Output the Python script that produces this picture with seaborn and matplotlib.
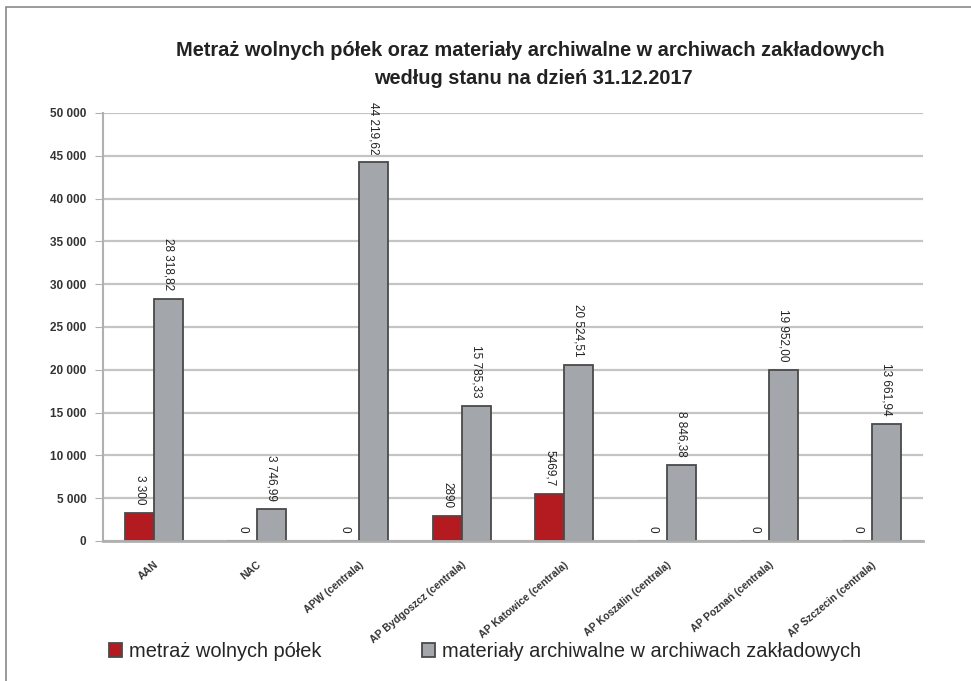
import matplotlib
matplotlib.use("Agg")
import matplotlib.pyplot as plt
from matplotlib.ticker import FuncFormatter, MultipleLocator
from matplotlib.patches import Rectangle
import seaborn as sb
import pandas as pd

# data
archives = ['AAN', 'NAC', 'APW (centrala)', 'AP Bydgoszcz (centrala)',
            'AP Katowice (centrala)', 'AP Koszalin (centrala)',
            'AP Poznań (centrala)', 'AP Szczecin (centrala)']
free_shelves = [3300, 0, 0, 2890, 5469.7, 0, 0, 0]
zakladowe = [28318.82, 3746.99, 44219.62, 15785.33, 20524.51, 8846.38, 19952.00, 13661.94]
free_labels = ['3 300', '0', '0', '2890', '5469,7', '0', '0', '0']
zakl_labels = ['28 318,82', '3 746,99', '44 219,62', '15 785,33',
               '20 524,51', '8 846,38', '19 952,00', '13 661,94']
series = ['metraż wolnych półek', 'materiały archiwalne w archiwach zakładowych']
colors = ['#b31b21', '#a3a6aa']

df = pd.DataFrame({
    'archiwum': archives * 2,
    'wartosc': free_shelves + zakladowe,
    'seria': [series[0]] * len(archives) + [series[1]] * len(archives),
})

sb.set_style('white')
plt.rcParams['font.family'] = ['Liberation Sans Narrow', 'Liberation Sans', 'DejaVu Sans']

fig = plt.figure(figsize=(9.71, 6.81), dpi=100)
ax = fig.add_axes([0.106, 0.2056, 0.8446, 0.6285])

sb.barplot(data=df, x='archiwum', y='wartosc', hue='seria', palette=colors,
           width=0.57, edgecolor='#4a4a4a', linewidth=1.3, saturation=1, ax=ax)

for cont, labs in zip(ax.containers, [free_labels, zakl_labels]):
    ax.bar_label(cont, labels=labs, rotation=-90, padding=6, fontsize=8.5, color='#222222')

ax.set_ylim(0, 50000)
ax.yaxis.set_major_locator(MultipleLocator(5000))
ax.yaxis.set_major_formatter(FuncFormatter(lambda v, p: '{:,.0f}'.format(v).replace(',', ' ')))
ax.grid(axis='y', color='#c4c4c4', linewidth=1.6)
ax.set_axisbelow(True)
ax.set_xlabel('')
ax.set_ylabel('')
for s in ['top', 'right']:
    ax.spines[s].set_visible(False)
ax.spines['left'].set_color('#b0b0b0')
ax.spines['left'].set_linewidth(1.5)
ax.spines['bottom'].set_color('#b0b0b0')
ax.spines['bottom'].set_linewidth(2)
ax.tick_params(axis='y', left=True, length=6, color='#b0b0b0', labelsize=8.5, pad=6)
ax.tick_params(axis='x', bottom=False, pad=10)
for t in ax.get_yticklabels():
    t.set_fontweight('bold')
    t.set_color('#333333')
ax.set_xticks(range(len(archives)))
ax.set_xticklabels(archives, rotation=40, ha='right', rotation_mode='anchor',
                   fontsize=7.5, fontweight='bold', color='#333333')

handles, labels = ax.get_legend_handles_labels()
ax.legend(handles, labels, loc='center left', bbox_to_anchor=(0.008, -0.258),
          ncol=2, frameon=False, fontsize=14.4, handlelength=0.65, handleheight=0.75,
          handletextpad=0.35, columnspacing=5.0, borderaxespad=0, borderpad=0)

fig.text(0.546, 0.926, 'Metraż wolnych półek oraz materiały archiwalne w archiwach zakładowych',
         ha='center', va='center', fontsize=14.4, fontweight='bold', color='#222222')
fig.text(0.549, 0.885, 'według stanu na dzień 31.12.2017',
         ha='center', va='center', fontsize=14.4, fontweight='bold', color='#222222')

# thin frame around the picture (top and left edges visible)
fig.patches.append(Rectangle((0.006, -0.1), 1.2, 1.09, transform=fig.transFigure,
                             fill=False, edgecolor='#8a8a8a', linewidth=1.2))

fig.savefig('out.png', dpi=100)
